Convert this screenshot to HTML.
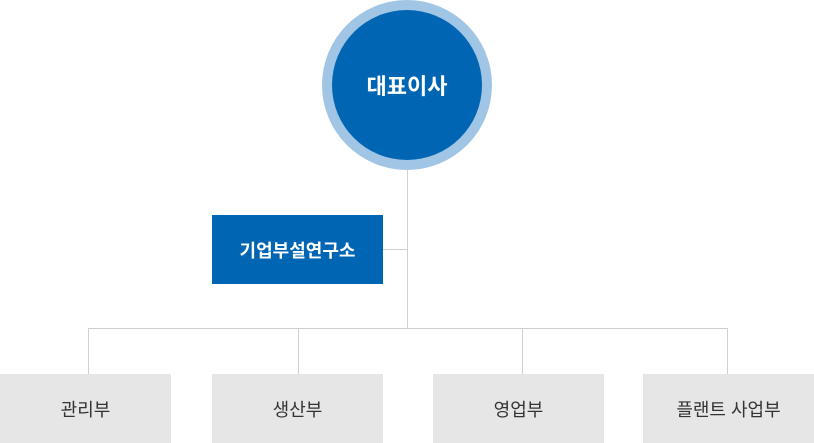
<!DOCTYPE html>
<html><head><meta charset="utf-8"><style>
body{margin:0;width:814px;height:443px;background:#fff;position:relative;overflow:hidden;font-family:"Liberation Sans","Noto Sans CJK KR",sans-serif}
div{position:absolute;box-sizing:border-box}
.l{background:#d0d0d0}
.b{display:flex;align-items:center;justify-content:center}
.g{background:#e6e6e6;color:#333;font-size:18px;top:374px;width:171px;height:69px}
</style></head><body>
<div style="left:322px;top:0;width:170px;height:170px;border-radius:50%;background:#a1c5e4"></div>
<div class="b" style="left:332px;top:10px;width:150px;height:150px;border-radius:50%;background:#0066b3;color:#fff;font-size:22px;font-weight:bold">대표이사</div>
<div class="l" style="left:407px;top:170px;width:1px;height:158px"></div>
<div class="l" style="left:383px;top:249px;width:24px;height:1px"></div>
<div class="b" style="left:212px;top:215px;width:171px;height:69px;background:#0066b3;color:#fff;font-size:18px;font-weight:bold">기업부설연구소</div>
<div class="l" style="left:88px;top:328px;width:640px;height:1px"></div>
<div class="l" style="left:88px;top:328px;width:1px;height:46px"></div>
<div class="l" style="left:298px;top:328px;width:1px;height:46px"></div>
<div class="l" style="left:522px;top:328px;width:1px;height:46px"></div>
<div class="l" style="left:727px;top:328px;width:1px;height:46px"></div>
<div class="b g" style="left:0">관리부</div>
<div class="b g" style="left:212px">생산부</div>
<div class="b g" style="left:433px">영업부</div>
<div class="b g" style="left:643px">플랜트 사업부</div>
</body></html>
